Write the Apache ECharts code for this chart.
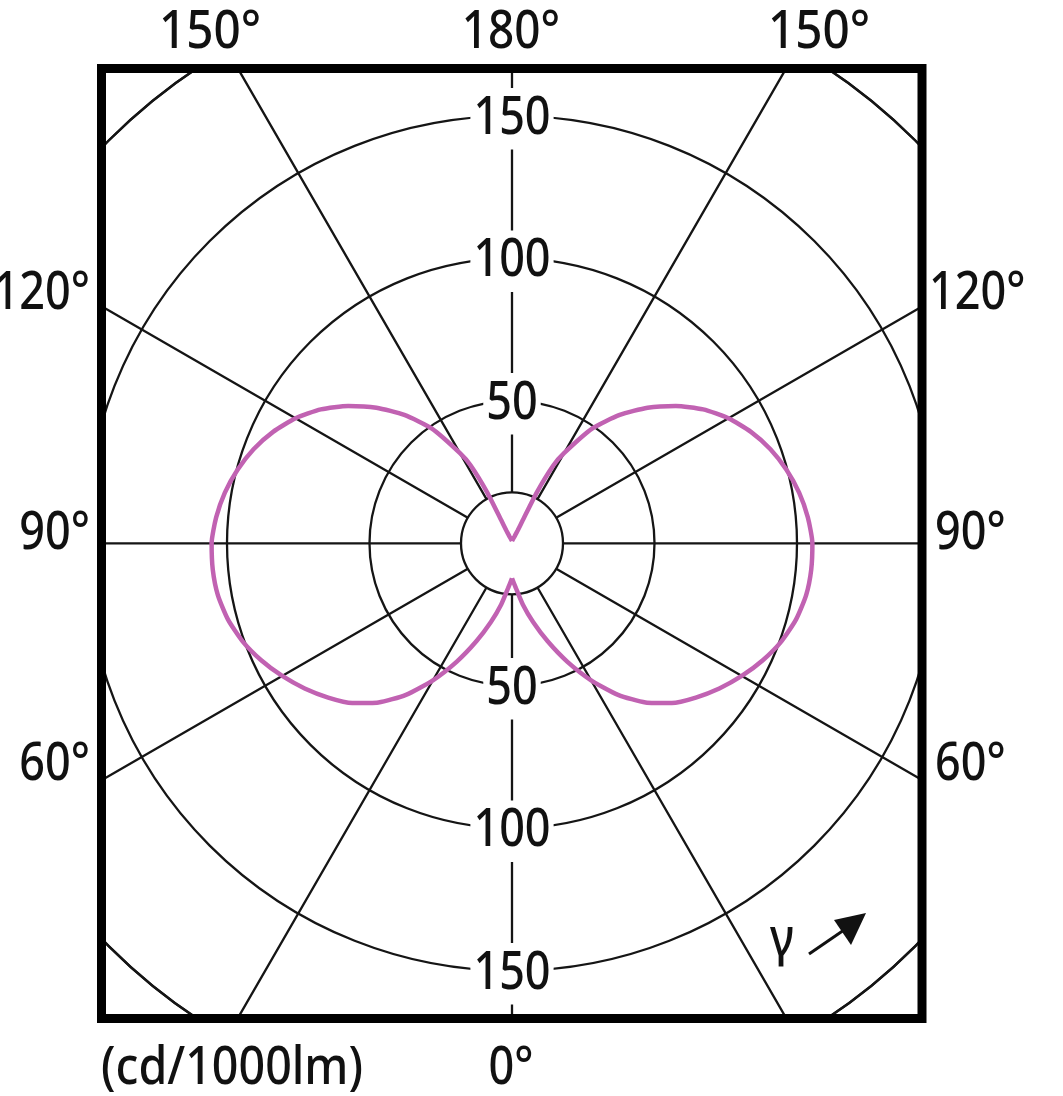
<!DOCTYPE html>
<html>
<head>
<meta charset="utf-8">
<script src="https://cdn.jsdelivr.net/npm/echarts@6/dist/echarts.min.js"></script>
<style>
  html, body { margin: 0; padding: 0; background: #ffffff; }
  #chart { width: 1063px; height: 1096px; }
</style>
</head>
<body>
<div id="chart"></div>
<script>
// ---- data ----
// gamma angles (degrees, 0 = straight down, 180 = straight up)
const gammaDeg = [0, 5, 10, 15, 20, 25, 30, 35, 40, 45, 50, 55, 60, 65, 70, 75, 80, 85, 90,
                  95, 100, 105, 110, 115, 120, 125, 130, 135, 140, 145, 150, 152, 154, 155, 156, 160, 170, 180];
// luminous intensity, cd/1000lm, C0 plane (right half)
const intensityC0 = [12.3, 15.8, 21.8, 28.6, 36.6, 45.8, 55.5, 64.9, 72.9, 79.3, 84.2, 88.8, 93.1, 97.1, 100.6, 103.2, 104.8, 105.4, 105.4,
                     104.2, 102.3, 99.7, 96.5, 92.5, 87.7, 81.9, 75.0, 67.3, 58.8, 49.2, 36.5, 31, 20, 9, 5, 2.5, 1.2, 0.8];
// C180 plane (left half)
const intensityC180 = [12.3, 15.8, 21.8, 28.6, 36.6, 45.8, 55.5, 64.9, 72.9, 79.3, 84.2, 88.8, 93.1, 97.1, 100.6, 103.2, 104.8, 105.4, 105.4,
                       104.2, 102.3, 99.7, 96.5, 92.5, 87.7, 81.9, 75.0, 67.3, 58.8, 49.2, 36.5, 31, 20, 9, 5, 2.5, 1.2, 0.8];
// radial scale ticks
const radiusTicks = [50, 100, 150];
const radiusMax = 200;
const radiusInterval = 50;
const angleInterval = 30;
// outer angle labels
const topLabels = ['150°', '180°', '150°'];
const sideLabels = ['120°', '90°', '60°'];
const bottomLabel = '0°';
const unitLabel = '(cd/1000lm)';
const gammaLabel = 'γ';

// ---- build series data ----
const rightData = gammaDeg.map((g, i) => [intensityC0[i], g]);
const leftData = gammaDeg.map((g, i) => [intensityC180[i], 360 - g]);
const labelData = [];
radiusTicks.forEach(v => { labelData.push([v, 180]); labelData.push([v, 0]); });

const FONT = "'Noto Sans', 'Open Sans', sans-serif";
const FS = 45, SY = 1.16;
const GRID = '#151515';
const CX = 512, CY = 543.3, R = 570;
const FL = 101.5, FR = 922, FT = 68.5, FB = 1018.5;
const CURVE = '#c162b2';

function txt(text, x, y, align, extra, sx) {
  const st = {
    text: text, x: 0, y: 0, fill: '#111',
    fontSize: FS, fontFamily: FONT, fontWeight: 500,
    textAlign: align, align: align,
    textVerticalAlign: 'middle', verticalAlign: 'middle'
  };
  if (extra) Object.assign(st, extra);
  return { type: 'text', z: 110, x: x, y: y, scaleX: sx || 1, scaleY: SY, originX: 0, originY: 0, style: st };
}

const chart = echarts.init(document.getElementById('chart'), null, { renderer: 'canvas' });
const curveSeries = (name, data) => ({
  name: name, type: 'line', coordinateSystem: 'polar', polarIndex: 0,
  data: data, symbol: 'none', smooth: 0.2, clip: false, z: 3,
  lineStyle: { color: CURVE, width: 4.5 }
});
const option = {
  backgroundColor: '#ffffff',
  animation: false,
  polar: [
    { center: [CX, CY], radius: R },
    { center: [CX, CY], radius: [51, R] }
  ],
  angleAxis: [
    {
      polarIndex: 0, type: 'value', min: 0, max: 360, startAngle: 270, clockwise: false,
      axisLine: { show: false }, axisTick: { show: false }, axisLabel: { show: false },
      splitLine: { show: false }
    },
    {
      polarIndex: 1, type: 'value', min: 0, max: 360, interval: angleInterval, startAngle: 90,
      axisLine: { show: true, lineStyle: { color: GRID, width: 2.3 } },
      axisTick: { show: false }, axisLabel: { show: false },
      splitLine: { show: true, lineStyle: { color: GRID, width: 2.3 } }
    }
  ],
  radiusAxis: [
    {
      polarIndex: 0, type: 'value', min: 0, max: radiusMax, interval: radiusInterval,
      axisLine: { show: false }, axisTick: { show: false }, axisLabel: { show: false },
      splitLine: { show: true, lineStyle: { color: GRID, width: 2.3 } }
    },
    {
      polarIndex: 1, type: 'value', min: 0, max: 1, show: false,
      splitLine: { show: false }
    }
  ],
  series: [
    curveSeries('C0', rightData),
    curveSeries('C180', leftData),
    {
      name: 'radiusTicks', type: 'scatter', coordinateSystem: 'polar', polarIndex: 0,
      data: labelData, symbolSize: 0, silent: true, z: 1,
      itemStyle: { color: 'rgba(0,0,0,0)', opacity: 0 },
      label: { show: false }
    }
  ]
};
chart.setOption(option);

// radius tick labels positioned through the polar scale
const graphics = [
  // white surround outside the frame
  { type: 'rect', z: 100, shape: { x: 0, y: 0, width: 1063, height: FT }, style: { fill: '#fff' } },
  { type: 'rect', z: 100, shape: { x: 0, y: FB, width: 1063, height: 1096 - FB }, style: { fill: '#fff' } },
  { type: 'rect', z: 100, shape: { x: 0, y: 0, width: FL, height: 1096 }, style: { fill: '#fff' } },
  { type: 'rect', z: 100, shape: { x: FR, y: 0, width: 1063 - FR, height: 1096 }, style: { fill: '#fff' } },
  // frame
  { type: 'rect', z: 105, shape: { x: FL, y: FT, width: FR - FL, height: FB - FT },
    style: { fill: 'none', stroke: '#000', lineWidth: 9 } },
  // top labels
  txt(topLabels[0], 210, 33, 'center', null, 1.06),
  txt(topLabels[1], 511, 33, 'center', null, 1.02),
  txt(topLabels[2], 819, 33, 'center', null, 1.06),
  // left labels
  txt(sideLabels[0], 90, 294, 'right'),
  txt(sideLabels[1], 90, 534, 'right'),
  txt(sideLabels[2], 90, 765, 'right'),
  // right labels
  txt(sideLabels[0], 929, 294, 'left'),
  txt(sideLabels[1], 935, 534, 'left'),
  txt(sideLabels[2], 935, 765, 'left'),
  // bottom labels
  txt(bottomLabel, 511, 1069, 'center'),
  txt(unitLabel, 101, 1069, 'left', null, 1.035),
  // gamma + arrow
  txt(gammaLabel, 782, 940, 'center'),
  { type: 'line', z: 110, shape: { x1: 809, y1: 954, x2: 844, y2: 930 },
    style: { stroke: '#111', lineWidth: 3 } },
  { type: 'polygon', z: 110, shape: { points: [[834, 920], [866, 913], [851, 945]] },
    style: { fill: '#111' } }
];
labelData.forEach(d => {
  const p = chart.convertToPixel({ seriesIndex: 2 }, d);
  if (p) {
    graphics.push(txt(String(d[0]), p[0], p[1] + 3, 'center',
      { backgroundColor: '#ffffff', padding: [4, 3] }));
  }
});
chart.setOption({ graphic: graphics });
</script>
</body>
</html>
